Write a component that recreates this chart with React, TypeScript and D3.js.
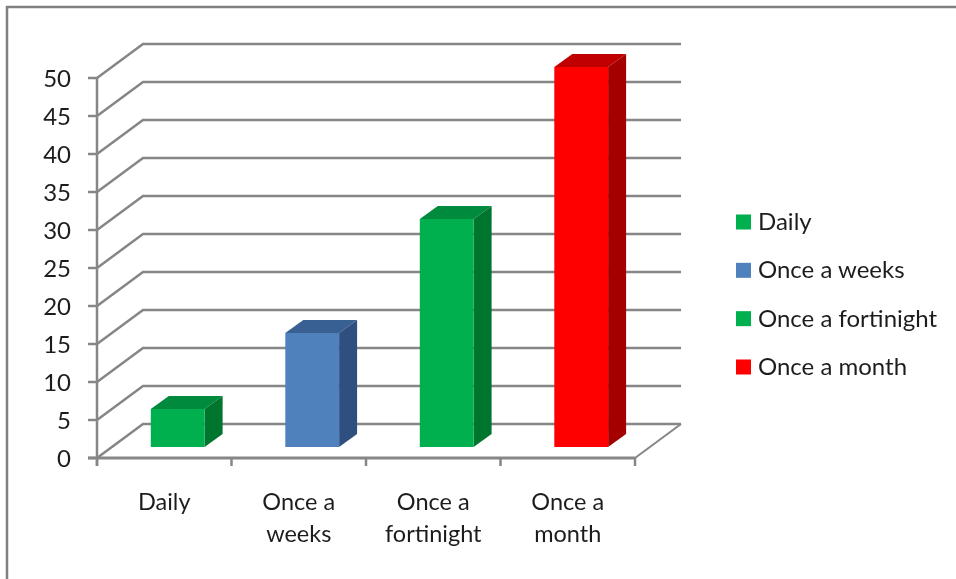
import { useRef, useEffect } from 'react';
import * as d3 from 'd3';

const categories = ['Daily', 'Once a weeks', 'Once a fortinight', 'Once a month'];
const axisLabels = [['Daily'], ['Once a', 'weeks'], ['Once a', 'fortinight'], ['Once a', 'month']];
const values = [5, 15, 30, 50];
const yTicks = [0, 5, 10, 15, 20, 25, 30, 35, 40, 45, 50];
const frontColors = ['#00b050', '#4f81bd', '#00b050', '#ff0000'];
const topColors = ['#008a3e', '#376092', '#008a3e', '#c00000'];
const sideColors = ['#00752f', '#2f5080', '#00752f', '#a50000'];

const FONT = 'Lato, "Noto Sans", sans-serif';
const GRID = '#868686';
const TEXT = '#1f1f1f';

export default function App() {
  const d3Container = useRef<SVGSVGElement>(null);

  useEffect(() => {
    if (!d3Container.current) return;
    const svg = d3.select(d3Container.current);
    svg.selectAll('*').remove();

    const defs = svg.append('defs');
    defs.append('filter').attr('id', 'soft')
      .append('feGaussianBlur').attr('stdDeviation', 0.6);

    const root = svg.append('g').attr('filter', 'url(#soft)');

    const x = d3.scaleBand<string>().domain(categories).range([97, 635]);
    const y = d3.scaleLinear().domain([0, 50]).range([458, 78]);

    // wall and floor offset
    const dx = 46;
    const dy = -34;

    // outer frame
    root.append('path')
      .attr('d', 'M7,579V7H956')
      .attr('fill', 'none')
      .attr('stroke', '#808080')
      .attr('stroke-width', 2.5);

    // floor
    root.append('path')
      .attr('d', `M${x.range()[1]},${y(0)}l${dx},${dy}`)
      .attr('fill', 'none')
      .attr('stroke', GRID)
      .attr('stroke-width', 2);

    // gridlines, running up the side wall and along the back
    root.selectAll('.grid')
      .data(yTicks)
      .join('path')
      .attr('class', 'grid')
      .attr('d', (d) => `M${x.range()[0]},${y(d)}l${dx},${dy}H${x.range()[1] + dx}`)
      .attr('fill', 'none')
      .attr('stroke', GRID)
      .attr('stroke-width', 2.5);

    // axes
    root.append('line')
      .attr('x1', x.range()[0]).attr('x2', x.range()[0])
      .attr('y1', y(50)).attr('y2', y(0) + 8)
      .attr('stroke', GRID).attr('stroke-width', 2.5);
    root.append('line')
      .attr('x1', x.range()[0] - 9).attr('x2', x.range()[1])
      .attr('y1', y(0)).attr('y2', y(0))
      .attr('stroke', GRID).attr('stroke-width', 3);

    root.selectAll('.ytick')
      .data(yTicks)
      .join('line')
      .attr('class', 'ytick')
      .attr('x1', x.range()[0] - 9).attr('x2', x.range()[0])
      .attr('y1', (d) => y(d)).attr('y2', (d) => y(d))
      .attr('stroke', GRID).attr('stroke-width', 2.5);

    root.selectAll('.xtick')
      .data([...categories.map((c) => x(c) as number), x.range()[1]])
      .join('line')
      .attr('class', 'xtick')
      .attr('x1', (d) => d).attr('x2', (d) => d)
      .attr('y1', y(0)).attr('y2', y(0) + 8)
      .attr('stroke', GRID).attr('stroke-width', 2.5);

    root.selectAll('.ylabel')
      .data(yTicks)
      .join('text')
      .attr('class', 'ylabel')
      .attr('x', 71)
      .attr('y', (d) => y(d) + 9)
      .attr('text-anchor', 'end')
      .attr('font-family', FONT)
      .attr('font-size', 24)
      .attr('fill', TEXT)
      .text((d) => d);

    // bars
    const band = x.bandwidth();
    const barW = band * 0.4;
    const barDx = 18;
    const barDy = -13;
    const lift = 11;

    const bars = root.selectAll('.bar')
      .data(categories)
      .join('g')
      .attr('class', 'bar');

    bars.append('path')
      .attr('d', (c, i) => {
        const x0 = (x(c) as number) + band * 0.4;
        return `M${x0},${y(values[i]) - lift}l${barDx},${barDy}h${barW}l${-barDx},${-barDy}Z`;
      })
      .attr('fill', (_, i) => topColors[i]);

    bars.append('path')
      .attr('d', (c, i) => {
        const x1 = (x(c) as number) + band * 0.4 + barW;
        return `M${x1},${y(values[i]) - lift}l${barDx},${barDy}V${y(0) - lift + barDy}l${-barDx},${-barDy}Z`;
      })
      .attr('fill', (_, i) => sideColors[i]);

    bars.append('rect')
      .attr('x', (c) => (x(c) as number) + band * 0.4)
      .attr('y', (_, i) => y(values[i]) - lift)
      .attr('width', barW)
      .attr('height', (_, i) => y(0) - y(values[i]))
      .attr('fill', (_, i) => frontColors[i]);

    // category labels
    const labels = root.selectAll('.xlabel')
      .data(categories)
      .join('text')
      .attr('class', 'xlabel')
      .attr('text-anchor', 'middle')
      .attr('font-family', FONT)
      .attr('font-size', 23.5)
      .attr('fill', TEXT);

    labels.selectAll('tspan')
      .data((c) => axisLabels[categories.indexOf(c)].map((line, i) => ({ c, line, i })))
      .join('tspan')
      .attr('x', (d) => (x(d.c) as number) + band / 2)
      .attr('y', (d) => 510 + d.i * 32)
      .text((d) => d.line);

    // legend
    const legendY = d3.scalePoint<string>().domain(categories).range([222, 367]);
    const legend = root.selectAll('.legend')
      .data(categories)
      .join('g')
      .attr('class', 'legend')
      .attr('transform', (c) => `translate(736,${legendY(c)})`);

    legend.append('rect')
      .attr('x', 0).attr('y', -7.5)
      .attr('width', 15).attr('height', 15)
      .attr('fill', (_, i) => frontColors[i]);

    legend.append('text')
      .attr('x', 22).attr('y', 8)
      .attr('font-family', FONT)
      .attr('font-size', 24)
      .attr('fill', TEXT)
      .text((c) => c);
  }, []);

  return (
    <svg
      ref={d3Container}
      width={956}
      height={579}
      style={{ position: 'absolute', left: 0, top: 0, background: '#fff' }}
    />
  );
}
